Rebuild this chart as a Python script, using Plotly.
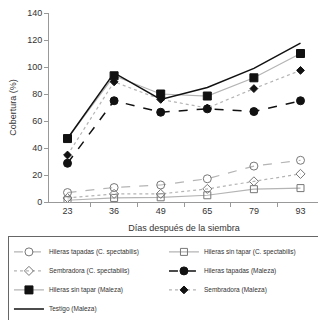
import plotly.graph_objects as go

dias = ["23", "36", "49", "65", "79", "93"]

ht_cs = [7, 10.7, 12.6, 17.2, 26.6, 30.9]      # Hileras tapadas (C. spectabilis)
hst_cs = [1.3, 3, 3.5, 5, 9.5, 10.3]           # Hileras sin tapar (C. spectabilis)
sem_cs = [3, 6, 6, 9.7, 15.3, 20.8]            # Sembradora (C. spectabilis)
ht_m = [28.7, 75, 66.5, 69, 67, 75]            # Hileras tapadas (Maleza)
hst_m = [47, 93.5, 80, 78.5, 92, 110]          # Hileras sin tapar (Maleza)
sem_m = [34.8, 89, 76, 69.6, 84, 97.5]         # Sembradora (Maleza)
testigo = [47, 95.6, 76, 84.8, 99, 117.7]      # Testigo (Maleza)

GRAY = "#b4b4b4"
fig = go.Figure()

def add(name, y, color, dash, symbol, mcolor, msize, width=1.2):
    fig.add_trace(go.Scatter(
        x=dias, y=y, name=name, mode="lines+markers",
        line=dict(color=color, dash=dash, width=width),
        marker=dict(symbol=symbol, color=mcolor, size=msize,
                    line=dict(color=mcolor, width=1)),
    ))

add("Hileras tapadas (C. spectabilis)", ht_cs, GRAY, "dash", "circle-open", "#777", 8)
add("Hileras sin tapar (C. spectabilis)", hst_cs, GRAY, "solid", "square-open", "#777", 7)
add("Sembradora (C. spectabilis)", sem_cs, GRAY, "dot", "diamond-open", "#777", 7)
add("Hileras tapadas (Maleza)", ht_m, "#111", "dash", "circle", "#111", 8, width=1.5)
add("Hileras sin tapar (Maleza)", hst_m, GRAY, "solid", "square", "#111", 8)
add("Sembradora (Maleza)", sem_m, GRAY, "dot", "diamond", "#111", 6)
fig.add_trace(go.Scatter(x=dias, y=testigo, name="Testigo (Maleza)", mode="lines",
                         line=dict(color="#111", width=1.5)))

# page has an 8px body margin: figure is sized to fit the 326x320 window
fig.update_layout(
    width=318, height=312,
    margin=dict(l=41, r=7, t=5, b=117.5, autoexpand=False),
    paper_bgcolor="white", plot_bgcolor="white",
    font=dict(family="Liberation Sans, Arial, sans-serif", color="#333", size=9),
    xaxis=dict(
        type="category", tickson="boundaries", ticks="outside", ticklen=4,
        tickcolor="#999", showline=True, linecolor="#999", linewidth=1,
        showgrid=False, zeroline=False,
        title=dict(text="Días después de la siembra", font=dict(size=9), standoff=9),
        tickfont=dict(size=9),
    ),
    yaxis=dict(
        range=[0, 140], dtick=20, ticks="outside", ticklen=4, tickcolor="#999",
        showline=True, linecolor="#999", linewidth=1, showgrid=False, zeroline=False,
        title=dict(text="Cobertura (%)", font=dict(size=9), standoff=16),
        tickfont=dict(size=9),
    ),
    legend=dict(
        orientation="h", x=-0.152, xanchor="left", y=-0.182, yanchor="top",
        entrywidth=110, entrywidthmode="pixels",
        bordercolor="#666", borderwidth=1, font=dict(size=6.5),
        tracegroupgap=0, itemwidth=30,
    ),
    showlegend=True,
)

fig.write_html("out.html")
